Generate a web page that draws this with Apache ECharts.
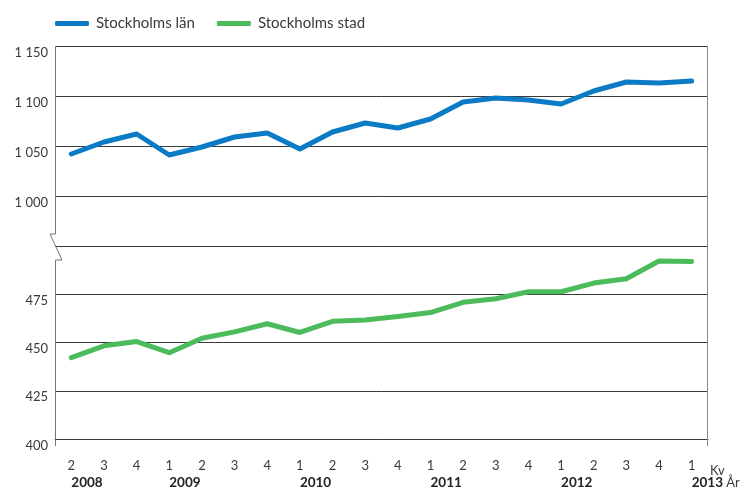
<!DOCTYPE html>
<html>
<head>
<meta charset="utf-8">
<script src="https://cdn.jsdelivr.net/npm/echarts@6/dist/echarts.min.js"></script>
<style>html,body{margin:0;padding:0;background:#fff}#c{width:745px;height:490px}</style>
</head>
<body>
<div id="c"></div>
<script>
var quarters = ['2','3','4','1','2','3','4','1','2','3','4','1','2','3','4','1','2','3','4','1'];
var years    = ['2008','','','2009','','','','2010','','','','2011','','','','2012','','','','2013'];
var lan  = [1042,1054,1062,1041,1049,1059,1063,1047,1064,1073,1068,1077,1094,1098,1096,1092,1105,1114,1113,1115];
var stad = [442.2,448.3,450.5,444.7,452.2,455.5,459.7,455.2,461,461.7,463.5,465.5,470.8,472.7,476.3,476.3,480.8,483,492.2,492];
var upperTicks = [950, 1150, 50];
var lowerTicks = [400, 500, 25];
var names = ['Stockholms län', 'Stockholms stad'];
var colors = ['#0a7bc4', '#4cbb5c'];

var FONT = 'Lato';
var TXT = '#3a3a3a';
var GRID = '#3a3a3a';
var cats = quarters.map(function (q, i) { return i; });

function fmtNum(v) {
  var s = String(v);
  return s.length > 3 ? s.slice(0, s.length - 3) + ' ' + s.slice(-3) : s;
}

var chart = echarts.init(document.getElementById('c'));
chart.setOption({
  animation: false,
  textStyle: { fontFamily: FONT },
  legend: {
    left: 50, top: 11,
    itemWidth: 34, itemHeight: 5, itemGap: 22,
    icon: 'roundRect',
    textStyle: { fontFamily: FONT, fontSize: 15, color: TXT, padding: [0, 0, 0, 2] },
    data: names
  },
  grid: [
    { left: 55, right: 37, top: 46, height: 200 },
    { left: 55, right: 37, top: 246, height: 200 }
  ],
  xAxis: [
    { type: 'category', gridIndex: 0, data: cats, boundaryGap: true,
      axisLine: { show: false }, axisTick: { show: false }, axisLabel: { show: false } },
    { type: 'category', gridIndex: 1, data: cats, boundaryGap: true, position: 'bottom',
      axisLine: { show: true, lineStyle: { color: GRID, width: 1 } },
      axisTick: { show: false },
      axisLabel: { interval: 0, margin: 20, fontSize: 13, color: TXT, fontFamily: FONT,
        formatter: function (v, i) { return quarters[i]; } } },
    { type: 'category', gridIndex: 1, data: cats, boundaryGap: true, position: 'bottom',
      axisLine: { show: false }, axisTick: { show: false },
      axisLabel: { interval: 0, margin: 37, align: 'left', fontSize: 13, color: TXT, fontFamily: FONT,
        fontWeight: 'bold',
        formatter: function (v, i) {
          if (!years[i]) return '';
          return i === years.length - 1 ? '{b|' + years[i] + '} {n|År}' : '{b|' + years[i] + '}';
        },
        rich: {
          b: { fontFamily: FONT, fontSize: 13.5, fontWeight: 'bold', color: '#222' },
          n: { fontFamily: FONT, fontSize: 13, fontWeight: 'normal', color: TXT }
        } } }
  ],
  yAxis: [
    { type: 'value', gridIndex: 0, min: upperTicks[0], max: upperTicks[1], interval: upperTicks[2],
      axisLine: { show: false }, axisTick: { show: false },
      splitLine: { lineStyle: { color: GRID, width: 1 } },
      axisLabel: { margin: 7, fontSize: 13, color: TXT, fontFamily: FONT, verticalAlign: 'top',
        formatter: function (v) { return v === upperTicks[0] ? '' : fmtNum(v); } } },
    { type: 'value', gridIndex: 1, min: lowerTicks[0], max: lowerTicks[1], interval: lowerTicks[2],
      axisLine: { show: false }, axisTick: { show: false },
      splitLine: { lineStyle: { color: GRID, width: 1 } },
      axisLabel: { margin: 7, fontSize: 13, color: TXT, fontFamily: FONT, verticalAlign: 'top',
        formatter: function (v) { return v === lowerTicks[1] ? '' : String(v); } } }
  ],
  graphic: [
    { type: 'polyline', silent: true, z: 10,
      shape: { points: [[55.5, 46], [55.5, 234], [50, 234], [62, 260], [55.5, 260], [55.5, 446]] },
      style: { stroke: '#777', lineWidth: 1, fill: null } },
    { type: 'line', silent: true, z: 10,
      shape: { x1: 707.5, y1: 46, x2: 707.5, y2: 446 },
      style: { stroke: '#888', lineWidth: 1 } },
    { type: 'text', left: 710, top: 464, silent: true,
      style: { text: 'Kv', fontFamily: FONT, fontSize: 13, fill: TXT } }
  ],
  series: [
    { name: names[0], type: 'line', xAxisIndex: 0, yAxisIndex: 0, data: lan,
      showSymbol: false, symbol: 'none', color: colors[0],
      lineStyle: { width: 5, color: colors[0], cap: 'round', join: 'round' } },
    { name: names[1], type: 'line', xAxisIndex: 1, yAxisIndex: 1, data: stad,
      showSymbol: false, symbol: 'none', color: colors[1],
      lineStyle: { width: 5, color: colors[1], cap: 'round', join: 'round' } }
  ]
});
</script>
</body>
</html>
